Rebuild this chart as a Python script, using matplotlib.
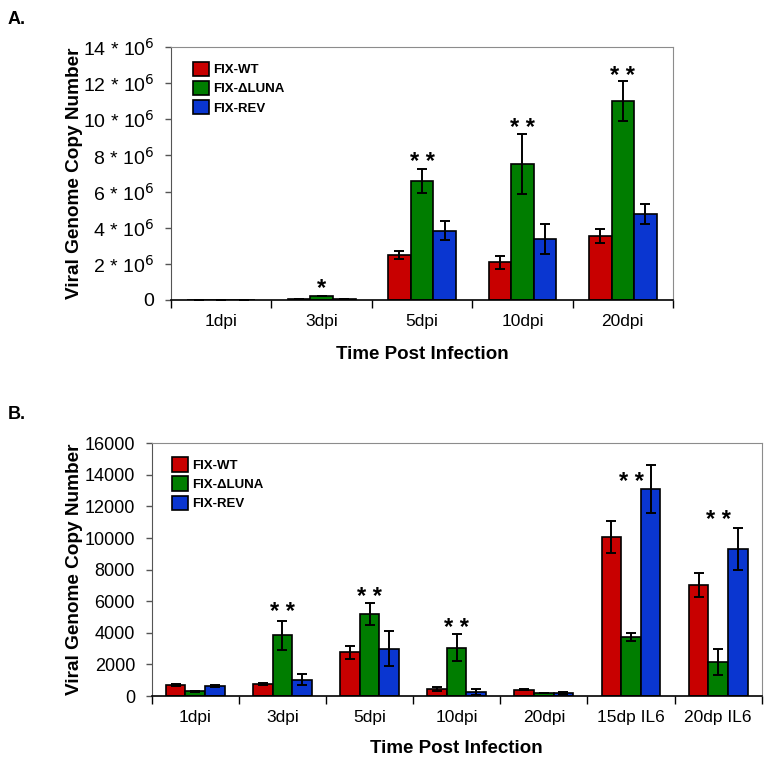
import numpy as np
import matplotlib.pyplot as plt

plt.rcParams['font.family'] = ['Liberation Sans', 'DejaVu Sans']

series = ['FIX-WT', 'FIX-ΔLUNA', 'FIX-REV']
colors = ['#c80000', '#007d00', '#0a36d0']

# Panel A (values in units of 10^6)
cats_a = ['1dpi', '3dpi', '5dpi', '10dpi', '20dpi']
wt_a = [0.02, 0.03, 2.49, 2.08, 3.54]
luna_a = [0.02, 0.22, 6.59, 7.53, 11.01]
rev_a = [0.02, 0.03, 3.84, 3.38, 4.78]
wt_a_err = [0, 0, 0.24, 0.35, 0.39]
luna_a_err = [0, 0, 0.65, 1.66, 1.10]
rev_a_err = [0, 0, 0.52, 0.85, 0.55]
stars_a = ['', '*', '**', '**', '**']
stars_a_y = [0, 0.94, 7.91, 9.80, 12.67]
yticks_a = [0, 2, 4, 6, 8, 10, 12, 14]

# Panel B
cats_b = ['1dpi', '3dpi', '5dpi', '10dpi', '20dpi', '15dp IL6', '20dp IL6']
wt_b = [680, 770, 2770, 440, 400, 10090, 7030]
luna_b = [300, 3840, 5190, 3060, 190, 3720, 2130]
rev_b = [630, 1030, 3000, 250, 200, 13110, 9310]
wt_b_err = [60, 70, 420, 110, 50, 1010, 740]
luna_b_err = [40, 905, 720, 870, 20, 250, 820]
rev_b_err = [90, 340, 1120, 170, 60, 1500, 1310]
stars_b = ['', '**', '**', '**', '', '**', '**']
stars_b_y = [0, 5650, 6600, 4640, 0, 13890, 11460]


def draw_panel(ax, cats, vals, errs, stars, stars_y, ylim, legend_anchor):
    x = np.arange(len(cats))
    w = 0.225
    for i, (v, e) in enumerate(zip(vals, errs)):
        ax.bar(x + (i - 1) * w, v, w, color=colors[i], edgecolor='black',
               linewidth=1.2, label=series[i], zorder=2)
        ax.errorbar(x + (i - 1) * w, v, yerr=e, fmt='none',
                    ecolor='black', elinewidth=1.4, capsize=3.5, capthick=1.4, zorder=3)
    for xi, s, sy in zip(x, stars, stars_y):
        if s:
            ax.annotate(' '.join(s), (xi, sy), xytext=(0, -4), textcoords='offset points',
                        ha='center', va='center', fontsize=17, fontweight='bold')
    ax.set_xlim(-0.5, len(cats) - 0.5)
    ax.set_ylim(*ylim)
    ax.set_xticks(np.arange(len(cats) + 1) - 0.5)
    ax.set_xticklabels([])
    ax.set_xticks(x, minor=True)
    ax.set_xticklabels(cats, minor=True, fontsize=12.5)
    ax.tick_params(axis='x', which='major', length=6, direction='out', width=1)
    ax.tick_params(axis='x', which='minor', length=0, pad=10)
    ax.tick_params(axis='y', length=4, width=1, color='#555555', pad=8)
    for sp in ['top', 'right']:
        ax.spines[sp].set_color('#8c8c8c')
    ax.spines['left'].set_color('#555555')
    ax.spines['bottom'].set_color('black')
    ax.spines['bottom'].set_linewidth(1.2)
    ax.set_ylabel('Viral Genome Copy Number', fontsize=13.7, fontweight='bold')
    ax.legend(loc='upper left', frameon=False,
              prop={'weight': 'bold', 'size': 9.5},
              handlelength=1.2, handleheight=1.3, handletextpad=0.3,
              labelspacing=0.35, borderaxespad=0.8, bbox_to_anchor=legend_anchor)


fig = plt.figure(figsize=(7.68, 7.6), dpi=100)

ax1 = fig.add_axes([0.2227, 0.6053, 0.6536, 0.3329])
draw_panel(ax1, cats_a, [wt_a, luna_a, rev_a], [wt_a_err, luna_a_err, rev_a_err],
           stars_a, stars_a_y, (0, 14), (0.012, 1.005))
ax1.set_yticks(yticks_a)
ax1.set_yticklabels(['0'] + [r'%d * 10$^{6}$' % t for t in yticks_a[1:]], fontsize=14)
ax1.set_xlabel('Time Post Infection', fontsize=13.5, fontweight='bold', labelpad=12)
ax1.yaxis.set_label_coords(-0.176, 0.5)

ax2 = fig.add_axes([0.1975, 0.0842, 0.7943, 0.3325])
draw_panel(ax2, cats_b, [wt_b, luna_b, rev_b], [wt_b_err, luna_b_err, rev_b_err],
           stars_b, stars_b_y, (0, 16000), (0.008, 1.008))
ax2.set_yticks(np.arange(0, 16001, 2000))
ax2.tick_params(axis='y', labelsize=13)
ax2.set_xlabel('Time Post Infection', fontsize=13.5, fontweight='bold', labelpad=11)
ax2.yaxis.set_label_coords(-0.113, 0.5)

fig.text(0.01, 0.975, 'A.', fontsize=13, fontweight='bold', va='center')
fig.text(0.01, 0.455, 'B.', fontsize=13, fontweight='bold', va='center')

fig.savefig('out.png', dpi=100, facecolor='white')
